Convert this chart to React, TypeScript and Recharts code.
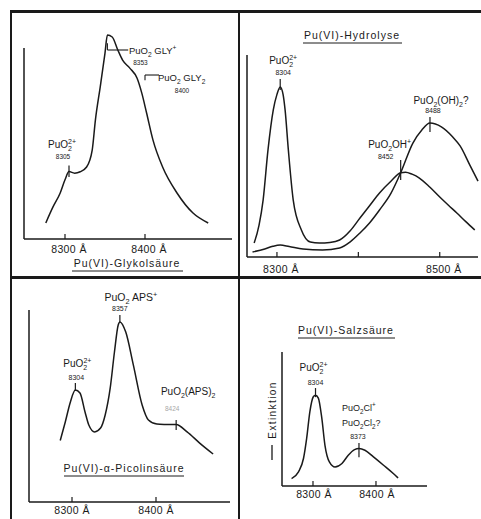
import { LineChart, Line, XAxis, YAxis, ReferenceLine, ReferenceDot } from 'recharts'

const INK = '#1a1a1a'
const FONT = "'Liberation Sans', Arial, sans-serif"

// Pu(VI)-Glykolsäure
const glyWl = [8276, 8285, 8294, 8300, 8305, 8312, 8319, 8327, 8334, 8338, 8344, 8350, 8353, 8359, 8366, 8372, 8381, 8390, 8396, 8402, 8410, 8422, 8440, 8460, 8479]
const glyExt = [8.4, 16.8, 24.1, 31, 35.3, 34.5, 35.2, 37.7, 46.6, 62.3, 79.6, 97.4, 106.8, 105.8, 99, 93.7, 89.5, 84.3, 76.4, 66, 51.8, 37.7, 24.1, 13.6, 8.4]

// Pu(VI)-Hydrolyse, weakly hydrolysed solution
const hydAWl = [8272, 8278, 8283, 8289, 8295.5, 8300, 8304, 8307.5, 8310, 8314, 8320, 8330, 8341, 8352, 8365, 8377, 8390, 8402, 8414, 8426, 8440, 8452, 8458, 8466, 8475, 8488, 8500, 8511, 8521, 8532, 8543]
const hydAExt = [6.9, 15.8, 28.2, 53, 72.8, 80.5, 84.2, 80.5, 72.8, 53, 28.2, 13.4, 7.4, 6.9, 7.2, 8.4, 13, 19.3, 25.5, 31.7, 37.5, 41.7, 42, 41, 39.1, 34.5, 29.7, 25.5, 21.8, 17.5, 13.4]

// Pu(VI)-Hydrolyse, strongly hydrolysed solution
const hydBWl = [8270, 8285, 8295, 8304, 8315, 8332, 8356, 8377, 8390, 8402, 8414, 8426, 8440, 8452, 8467, 8478, 8488, 8502, 8516, 8525, 8537, 8547]
const hydBExt = [2.5, 4, 5.3, 5.9, 5.2, 4, 3.5, 4.5, 7.5, 11.9, 17, 23.3, 31.5, 41.7, 56.4, 62.9, 66.3, 64.4, 59.4, 55, 45.5, 37.6]

// Pu(VI)-α-Picolinsäure
const picWl = [8286, 8292, 8298, 8304, 8309.5, 8315.5, 8320, 8327, 8334, 8339.5, 8345.5, 8350.5, 8355, 8357, 8364, 8373, 8383.5, 8391, 8401, 8412, 8424, 8437, 8452, 8468]
const picExt = [32, 41.7, 52, 58.3, 56.8, 46.9, 40.1, 36.5, 38.5, 45.3, 59.4, 78, 92.2, 93.8, 88.5, 71.4, 50.5, 42.7, 40.6, 40.4, 40.3, 36.5, 30.7, 25]

// Pu(VI)-Salzsäure
const hclWl = [8266, 8277, 8285, 8290, 8295, 8300.5, 8304, 8308.5, 8314, 8319, 8326, 8335, 8346, 8356, 8366, 8373, 8382.5, 8396, 8412, 8427.5, 8435]
const hclExt = [5.5, 10.5, 20.7, 35.7, 55.3, 66.6, 67.8, 65.6, 50.6, 30.4, 18, 14.2, 16.8, 23, 27.2, 28, 26.7, 21.7, 15.5, 9.3, 6]

const glyTicks = [8300, 8400]
const hydTicks = [8300, 8400, 8500]
const hydTickLabels = [8300, 8500]
const picTicks = [8300, 8400]
const hclTicks = [8300, 8400]

type Row = { l: number; e: number }
const toRows = (wl: number[], ext: number[]): Row[] => wl.map((l, i) => ({ l, e: ext[i] }))

type Part = { t: string; s?: 'sub' | 'sup'; back?: boolean }
type Note = { parts: Part[] | string; dx: number; dy: number; size?: number; anchor?: 'start' | 'middle'; fill?: string }

const sub = (t: string): Part => ({ t, s: 'sub' })
const sup = (t: string, back = false): Part => ({ t, s: 'sup', back })
const PuO2 = (...rest: Part[]): Part[] => [{ t: 'PuO' }, sub('2'), ...rest]

// sub/superscripts as shifted tspans; "back" stacks a superscript over the preceding subscript
function spans(parts: Part[], fs: number) {
  let cur = 0
  let prevW = 0
  return parts.map((p, i) => {
    const small = fs * 0.7
    const off = p.s === 'sub' ? fs * 0.3 : p.s === 'sup' ? -fs * 0.42 : 0
    const dy = off - cur
    cur = off
    const dx = p.back ? -prevW : 0
    prevW = p.s ? small * 0.556 * p.t.length : 0
    return (
      <tspan key={i} dy={dy} dx={dx || undefined} fontSize={p.s ? small : fs}>
        {p.t}
      </tspan>
    )
  })
}

function NoteLabel({ viewBox, notes }: any) {
  if (!viewBox) return null
  const cx = viewBox.x + (viewBox.width ?? 0) / 2
  const cy = viewBox.y + (viewBox.height ?? 0) / 2
  return (
    <g>
      {notes.map((n: Note, i: number) => {
        const fs = n.size ?? 10
        return (
          <text
            key={i}
            x={cx + n.dx}
            y={cy + n.dy}
            fontSize={fs}
            fontFamily={FONT}
            fill={n.fill ?? INK}
            textAnchor={n.anchor ?? 'middle'}
          >
            {typeof n.parts === 'string' ? n.parts : spans(n.parts, fs)}
          </text>
        )
      })}
    </g>
  )
}

// short vertical tick on a band plus its labels above it
function marker(key: string, x: number, y0: number, y1: number, notes: Note[]) {
  return [
    <ReferenceLine key={key + '-t'} segment={[{ x, y: y0 }, { x, y: y1 }]} stroke={INK} strokeWidth={1.2} ifOverflow="visible" />,
    <ReferenceDot key={key + '-l'} x={x} y={y1} r={0} fill="none" stroke="none" ifOverflow="visible" label={<NoteLabel notes={notes} />} />,
  ]
}

function seg(key: string, x0: number, y0: number, x1: number, y1: number) {
  return <ReferenceLine key={key} segment={[{ x: x0, y: y0 }, { x: x1, y: y1 }]} stroke={INK} strokeWidth={1.1} ifOverflow="visible" />
}

const axisTick = (labelled: number[], dx: number, gap: number) => (props: any) => {
  const { x, y, payload } = props
  return (
    <g>
      <line x1={x} x2={x} y1={y} y2={y - 5} stroke={INK} strokeWidth={1.2} />
      {labelled.includes(payload.value) && (
        <text x={x + dx} y={y + gap} textAnchor="middle" fontSize={10.5} fontFamily={FONT} fill={INK} letterSpacing={0.4}>
          {payload.value} Å
        </text>
      )}
    </g>
  )
}

interface PanelProps {
  box: [number, number, number, number]
  margin: { top: number; right: number; bottom: number; left: number }
  xDomain: [number, number]
  yMax: number
  ticks: number[]
  tickLabels: number[]
  labelDx: number
  labelGap: number
  series: Row[][]
  children?: any
}

function SpectrumPanel({ box, margin, xDomain, yMax, ticks, tickLabels, labelDx, labelGap, series, children }: PanelProps) {
  return (
    <div style={{ position: 'absolute', left: box[0], top: box[1] }}>
      <LineChart width={box[2]} height={box[3]} margin={margin}>
        <XAxis
          type="number"
          dataKey="l"
          domain={xDomain}
          ticks={ticks}
          interval={0}
          height={10}
          axisLine={{ stroke: INK, strokeWidth: 1.5 }}
          tickLine={false}
          tickSize={0}
          tickMargin={0}
          tick={axisTick(tickLabels, labelDx, labelGap)}
        />
        <YAxis hide type="number" domain={[0, yMax]} />
        <ReferenceLine
          segment={[{ x: xDomain[0], y: 0 }, { x: xDomain[0], y: 100 }]}
          stroke={INK}
          strokeWidth={1.5}
          ifOverflow="visible"
        />
        {series.map((rows, i) => (
          <Line
            key={i}
            data={rows}
            dataKey="e"
            type="monotone"
            stroke={INK}
            strokeWidth={1.5}
            dot={false}
            activeDot={false}
            isAnimationActive={false}
          />
        ))}
        {children}
      </LineChart>
    </div>
  )
}

const rule = (style: any) => <div style={{ position: 'absolute', background: INK, ...style }} />

function Title({ x, y, x0, x1, text }: { x: number; y: number; x0: number; x1: number; text: string }) {
  return (
    <g>
      <text x={x} y={y} textAnchor="middle" fontSize={10.5} fontFamily={FONT} fill={INK} letterSpacing={1}>
        {text}
      </text>
      <line x1={x0} x2={x1} y1={y + 4} y2={y + 4} stroke={INK} strokeWidth={1} />
    </g>
  )
}

export default function App() {
  return (
    <div style={{ position: 'absolute', left: 0, top: 0, width: 481, height: 519, background: '#fff', overflow: 'hidden' }}>
      {rule({ left: 10, top: 10, width: 471, height: 2.5 })}
      {rule({ left: 10, top: 276, width: 471, height: 2.5 })}
      {rule({ left: 9.5, top: 10, width: 2.5, height: 509 })}
      {rule({ left: 237.5, top: 10, width: 2.5, height: 509 })}

      <SpectrumPanel
        box={[10, 11, 229, 266]}
        margin={{ top: 18, right: 7, bottom: 28, left: 14 }}
        xDomain={[8248.75, 8508.75]}
        yMax={110}
        ticks={glyTicks}
        tickLabels={glyTicks}
        labelDx={4}
        labelGap={14}
        series={[toRows(glyWl, glyExt)]}
      >
        {marker('gly-free', 8305, 32.5, 38.5, [
          { parts: PuO2(sup('2+', true)), dx: -7, dy: -17.5 },
          { parts: '8305', dx: -6, dy: -6.5, size: 6.5 },
        ])}
        {seg('gly1-v', 8353, 99, 8353, 102.6)}
        {seg('gly1-h', 8353, 99, 8379, 99)}
        <ReferenceDot
          x={8353}
          y={99}
          r={0}
          fill="none"
          stroke="none"
          ifOverflow="visible"
          label={
            <NoteLabel
              notes={[
                { parts: PuO2({ t: ' GLY' }, sup('+')), dx: 21.5, dy: 4, anchor: 'start', size: 9.5 },
                { parts: '8353', dx: 33, dy: 15, size: 6.5 },
              ]}
            />
          }
        />
        {seg('gly2-v', 8400, 83.2, 8400, 85.9)}
        {seg('gly2-h', 8400, 85.9, 8417.5, 85.9)}
        <ReferenceDot
          x={8400}
          y={85.9}
          r={0}
          fill="none"
          stroke="none"
          ifOverflow="visible"
          label={
            <NoteLabel
              notes={[
                { parts: PuO2({ t: ' GLY' }, sub('2')), dx: 13, dy: 6, anchor: 'start', size: 9.5 },
                { parts: '8400', dx: 37, dy: 17.5, size: 6.5 },
              ]}
            />
          }
        />
      </SpectrumPanel>

      <SpectrumPanel
        box={[240, 11, 241, 266]}
        margin={{ top: 44, right: 3, bottom: 10, left: 7 }}
        xDomain={[8263.2, 8546.6]}
        yMax={100}
        ticks={hydTicks}
        tickLabels={hydTickLabels}
        labelDx={4}
        labelGap={15.5}
        series={[toRows(hydAWl, hydAExt), toRows(hydBWl, hydBExt)]}
      >
        {marker('hyd-free', 8304, 82.7, 88.1, [
          { parts: PuO2(sup('2+', true)), dx: 3, dy: -15 },
          { parts: '8304', dx: 3, dy: -4, size: 7 },
        ])}
        {marker('hyd-oh2', 8488, 61.9, 69.3, [
          { parts: PuO2({ t: '(OH)' }, sub('2'), { t: '?' }), dx: 11, dy: -13 },
          { parts: '8488', dx: 3, dy: -4, size: 7 },
        ])}
        {marker('hyd-oh', 8452, 38.1, 48, [
          { parts: PuO2({ t: 'OH' }, sup('+')), dx: -11, dy: -12 },
          { parts: '8452', dx: -15, dy: -1, size: 7 },
        ])}
      </SpectrumPanel>

      <SpectrumPanel
        box={[10, 278, 229, 241]}
        margin={{ top: 32, right: 9, bottom: 7, left: 19 }}
        xDomain={[8248.8, 8488.1]}
        yMax={100}
        ticks={picTicks}
        tickLabels={picTicks}
        labelDx={0}
        labelGap={11.5}
        series={[toRows(picWl, picExt)]}
      >
        {marker('pic-free', 8304, 57.8, 62, [
          { parts: PuO2(sup('2+', true)), dx: 2, dy: -16 },
          { parts: '8304', dx: 1, dy: -3, size: 7 },
        ])}
        {marker('pic-1', 8357, 93.2, 97.4, [
          { parts: PuO2({ t: ' APS' }, sup('+')), dx: 11, dy: -14, size: 10.5 },
          { parts: '8357', dx: 0, dy: -4, size: 7 },
        ])}
        {marker('pic-2', 8424, 37.5, 42.7, [
          { parts: PuO2({ t: '(APS)' }, sub('2')), dx: 12, dy: -25 },
          { parts: '8424', dx: -4, dy: -9, size: 6.5, fill: '#a8a8a8' },
        ])}
      </SpectrumPanel>

      <SpectrumPanel
        box={[240, 278, 241, 241]}
        margin={{ top: 74, right: 54, bottom: 23, left: 42 }}
        xDomain={[8250.8, 8481]}
        yMax={100}
        ticks={hclTicks}
        tickLabels={hclTicks}
        labelDx={1}
        labelGap={11.5}
        series={[toRows(hclWl, hclExt)]}
      >
        {marker('hcl-free', 8304, 66.3, 73.1, [
          { parts: PuO2(sup('2+', true)), dx: -2, dy: -17 },
          { parts: '8304', dx: 0, dy: -3, size: 7 },
        ])}
        {marker('hcl-cl', 8373, 21.5, 32, [
          { parts: PuO2({ t: 'Cl' }, sup('+')), dx: -17, dy: -32, anchor: 'start', size: 9 },
          { parts: PuO2({ t: 'Cl' }, sub('2'), { t: '?' }), dx: -17, dy: -17, anchor: 'start', size: 9 },
          { parts: '8373', dx: -1, dy: -4, size: 7 },
        ])}
      </SpectrumPanel>

      <svg width={481} height={519} style={{ position: 'absolute', left: 0, top: 0, pointerEvents: 'none' }}>
        <Title x={127} y={267} x0={72} x1={183} text="Pu(VI)-Glykolsäure" />
        <Title x={352} y={39} x0={303} x1={402} text="Pu(VI)-Hydrolyse" />
        <Title x={124} y={472} x0={64} x1={184} text="Pu(VI)-α-Picolinsäure" />
        <Title x={346} y={334} x0={298} x1={395} text="Pu(VI)-Salzsäure" />
        <text
          transform="translate(276,410) rotate(-90)"
          textAnchor="middle"
          fontSize={10}
          fontFamily={FONT}
          fill={INK}
          letterSpacing={1.4}
        >
          Extinktion
        </text>
        <line x1={272} x2={272} y1={445} y2={460} stroke={INK} strokeWidth={1.3} />
      </svg>
    </div>
  )
}
